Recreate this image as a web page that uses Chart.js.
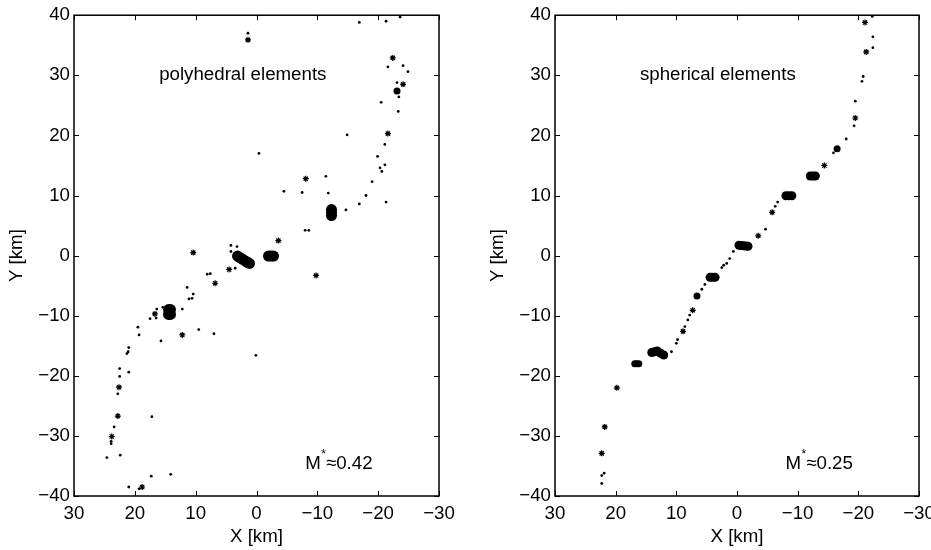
<!DOCTYPE html>
<html>
<head>
<meta charset="utf-8">
<script src="https://cdn.jsdelivr.net/npm/chart.js@4.4.1/dist/chart.umd.min.js"></script>
<style>
  html, body { margin: 0; padding: 0; background: #ffffff; }
  #wrap { position: relative; width: 931px; height: 550px; overflow: hidden; }
  #wrap canvas { position: absolute; top: 0; }
</style>
</head>
<body>
<div id="wrap">
  <canvas id="polyCanvas" width="465" height="550" style="left:0px"></canvas>
  <canvas id="sphereCanvas" width="470" height="550" style="left:481px"></canvas>
</div>
<script>
// Axis ticks (km)
const xTickValues = [30, 20, 10, 0, -10, -20, -30];
const yTickValues = [40, 30, 20, 10, 0, -10, -20, -30, -40];

// Panel captions
const polyCaption = 'polyhedral elements';
const sphereCaption = 'spherical elements';
const polyMValue = '0.42';
const sphereMValue = '0.25';

// Polyhedral elements: isolated events [X, Y] in km
const polyEvents = [
  [-16.9, 38.8], [-21.3, 39.0], [-23.6, 39.7], [1.4, 37.0],
  [-21.6, 31.4], [-24.1, 31.6], [-24.9, 30.6], [-23.1, 28.8], [-23.4, 26.4], [-20.5, 25.5], [-23.3, 24.0],
  [-14.9, 20.1], [-21.1, 18.5], [-0.4, 17.0], [-19.9, 16.5], [-21.1, 15.1], [-20.3, 14.6], [-20.6, 14.0],
  [-11.4, 13.2], [-19.0, 12.3], [-4.5, 10.7], [-7.5, 10.5], [-11.8, 10.4], [-18.0, 10.0], [-21.3, 8.9],
  [-16.9, 8.6], [-14.7, 7.6], [-8.0, 4.2], [-8.6, 4.2], [4.2, 1.7], [3.2, 1.5], [4.2, 0.7], [3.5, -2.1],
  [8.1, -3.1], [7.6, -3.0], [11.4, -5.3], [10.4, -6.4], [10.6, -7.1], [11.1, -7.2], [12.2, -8.9],
  [15.4, -8.6], [16.4, -8.9], [16.5, -10.4], [17.5, -10.5], [19.5, -11.9], [19.3, -13.2], [15.7, -14.2],
  [9.5, -12.3], [7.0, -13.0], [0.1, -16.6], [21.0, -15.3], [21.1, -16.0], [21.3, -16.3], [22.5, -18.8],
  [22.5, -20.1], [21.0, -19.4], [22.8, -23.0], [17.2, -26.8], [23.4, -28.5], [23.9, -30.9], [23.9, -31.3],
  [22.4, -33.2], [24.6, -33.6], [17.3, -36.7], [14.1, -36.4], [21.0, -38.5], [19.3, -38.8]
];
// Polyhedral elements: small bursts
const polyBursts = [
  [1.4, 35.9], [-22.4, 32.9], [-24.1, 28.5], [-21.6, 20.3], [-8.1, 12.8], [-3.6, 2.5], [10.4, 0.5],
  [4.5, -2.3], [6.8, -4.6], [-9.8, -3.3], [16.7, -9.7], [12.2, -13.2], [22.6, -21.9], [22.8, -26.7],
  [23.8, -30.1], [18.8, -38.5]
];
// Polyhedral elements: small clusters
const polySmallClusters = [[-23.1, 27.4]];
// Polyhedral elements: dense clusters
const polyClusters = [
  [3.12, -0.08], [2.79, -0.29], [2.46, -0.49], [2.14, -0.70], [1.81, -0.90], [1.48, -1.11], [1.15, -1.31],
  [-1.97, -0.08], [-2.38, -0.08], [-2.80, -0.08],
  [-12.33, 7.66], [-12.33, 7.16], [-12.33, 6.67],
  [14.46, -8.97], [14.14, -8.97], [14.30, -9.38], [14.46, -9.79], [14.14, -9.79]
];

// Spherical elements: isolated events
const sphereEvents = [
  [-22.3, 39.8], [-22.4, 36.4], [-22.4, 34.6], [-20.8, 29.8], [-20.6, 29.0], [-19.5, 25.7], [-19.3, 21.6],
  [-18.0, 19.4], [-15.9, 17.1], [-6.7, 8.9], [-6.3, 8.2], [-4.7, 4.4], [0.6, 0.7], [1.2, -0.5],
  [1.7, -1.3], [2.2, -1.6], [2.5, -2.0], [5.3, -4.8], [5.8, -5.6], [7.8, -9.9], [8.1, -10.7],
  [8.6, -11.8], [9.8, -14.0], [10.0, -14.6], [10.8, -16.0], [21.9, -36.2], [22.3, -36.6], [22.3, -37.9]
];
// Spherical elements: small bursts
const sphereBursts = [
  [-21.1, 38.8], [-21.3, 33.9], [-19.5, 22.9], [-14.4, 15.0], [-5.8, 7.2], [-3.5, 3.3], [7.3, -9.1],
  [8.9, -12.6], [19.8, -22.0], [21.8, -28.5], [22.3, -32.9]
];
// Spherical elements: small clusters
const sphereSmallClusters = [[16.85, -18.0], [16.52, -18.0], [16.19, -18.0], [-16.5, 17.8], [6.6, -6.7]];
// Spherical elements: dense clusters
const sphereClusters = [
  [-12.08, 13.25], [-12.50, 13.25], [-12.91, 13.25],
  [-8.06, 9.96], [-8.55, 9.96], [-9.04, 9.96],
  [-0.33, 1.73], [-0.70, 1.69], [-1.07, 1.65], [-1.44, 1.60], [-1.81, 1.56],
  [4.44, -3.62], [4.02, -3.62], [3.61, -3.62],
  [14.05, -16.13], [13.60, -16.00], [13.15, -15.88], [12.60, -16.25], [12.08, -16.54]
];

const FONT_FAMILY = '"Liberation Sans", Arial, Helvetica, sans-serif';
const FONT_SIZE = 18.7;

const toXY = pts => pts.map(p => ({ x: p[0], y: p[1] }));
const fmtTick = v => (v < 0 ? '\u2212' + Math.abs(v) : String(v));

// Box frame, inward tick marks and in-axes text
const framePlugin = {
  id: 'frame',
  afterDatasetsDraw(chart, args, opts) {
    const { ctx, chartArea: a, scales: { x, y } } = chart;
    ctx.save();
    ctx.strokeStyle = '#000';
    ctx.lineWidth = 1;
    ctx.beginPath();
    xTickValues.forEach(v => {
      const px = Math.round(x.getPixelForValue(v)) + 0.5;
      ctx.moveTo(px, a.bottom); ctx.lineTo(px, a.bottom - 5);
      ctx.moveTo(px, a.top); ctx.lineTo(px, a.top + 5);
    });
    yTickValues.forEach(v => {
      const py = Math.round(y.getPixelForValue(v)) + 0.5;
      ctx.moveTo(a.left, py); ctx.lineTo(a.left + 5, py);
      ctx.moveTo(a.right, py); ctx.lineTo(a.right - 5, py);
    });
    ctx.stroke();
    ctx.lineWidth = 1.5;
    ctx.strokeRect(a.left, a.top, a.right - a.left, a.bottom - a.top);

    ctx.fillStyle = '#000';
    ctx.textBaseline = 'middle';
    ctx.textAlign = 'left';
    ctx.font = FONT_SIZE + 'px ' + FONT_FAMILY;
    ctx.fillText(opts.caption, x.getPixelForValue(16), y.getPixelForValue(30));

    let mx = x.getPixelForValue(-8);
    const my = y.getPixelForValue(-34.6);
    ctx.fillText('M', mx, my);
    mx += ctx.measureText('M').width + 0.5;
    ctx.font = '12px ' + FONT_FAMILY;
    ctx.fillText('*', mx, my - 9);
    mx += ctx.measureText('*').width;
    ctx.font = FONT_SIZE + 'px ' + FONT_FAMILY;
    ctx.fillText('\u2248' + opts.mValue, mx, my);
    ctx.restore();
  }
};

function makePanel(canvasId, panel) {
  const font = { family: FONT_FAMILY, size: FONT_SIZE };
  return new Chart(document.getElementById(canvasId), {
    type: 'scatter',
    data: {
      datasets: [
        { label: 'events', data: toXY(panel.events), pointStyle: 'circle', pointRadius: 1.4,
          pointHoverRadius: 1.4, backgroundColor: '#000', borderWidth: 0 },
        { label: 'bursts', data: toXY(panel.bursts), pointStyle: 'star', pointRadius: 3,
          pointHoverRadius: 3, borderColor: '#000', backgroundColor: '#000', borderWidth: 1.2 },
        { label: 'small clusters', data: toXY(panel.smallClusters), pointStyle: 'circle', pointRadius: 3.5,
          pointHoverRadius: 3.5, backgroundColor: '#000', borderWidth: 0 },
        { label: 'clusters', data: toXY(panel.clusters), pointStyle: 'circle', pointRadius: panel.clusterRadius,
          pointHoverRadius: panel.clusterRadius, backgroundColor: '#000', borderWidth: 0 }
      ]
    },
    options: {
      responsive: false,
      animation: false,
      devicePixelRatio: 1,
      events: [],
      layout: { padding: { top: 10, right: panel.padRight, left: 0, bottom: 0 } },
      plugins: {
        legend: { display: false },
        tooltip: { enabled: false },
        frame: { caption: panel.caption, mValue: panel.mValue }
      },
      scales: {
        x: {
          type: 'linear', min: -30, max: 30, reverse: true,
          afterBuildTicks: s => { s.ticks = xTickValues.map(v => ({ value: v })); },
          afterFit: s => { s.height = 54; },
          grid: { display: false, drawTicks: false },
          border: { display: false },
          ticks: { font, color: '#000', padding: 7, maxRotation: 0, autoSkip: false, callback: fmtTick },
          title: { display: true, text: 'X [km]', font, color: '#000', padding: { top: 0, bottom: 2 } }
        },
        y: {
          type: 'linear', min: -40, max: 40,
          afterBuildTicks: s => { s.ticks = yTickValues.slice().reverse().map(v => ({ value: v })); },
          afterFit: s => { s.width = 74; },
          grid: { display: false, drawTicks: false },
          border: { display: false },
          ticks: { font, color: '#000', padding: 4, autoSkip: false, callback: fmtTick },
          title: { display: true, text: 'Y [km]', font, color: '#000', padding: { top: 6, bottom: 0 } }
        }
      }
    },
    plugins: [framePlugin]
  });
}

makePanel('polyCanvas', {
  events: polyEvents, bursts: polyBursts, smallClusters: polySmallClusters, clusters: polyClusters,
  clusterRadius: 5.5, caption: polyCaption, mValue: polyMValue, padRight: 26
});
makePanel('sphereCanvas', {
  events: sphereEvents, bursts: sphereBursts, smallClusters: sphereSmallClusters, clusters: sphereClusters,
  clusterRadius: 4.5, caption: sphereCaption, mValue: sphereMValue, padRight: 32
});
</script>
</body>
</html>
